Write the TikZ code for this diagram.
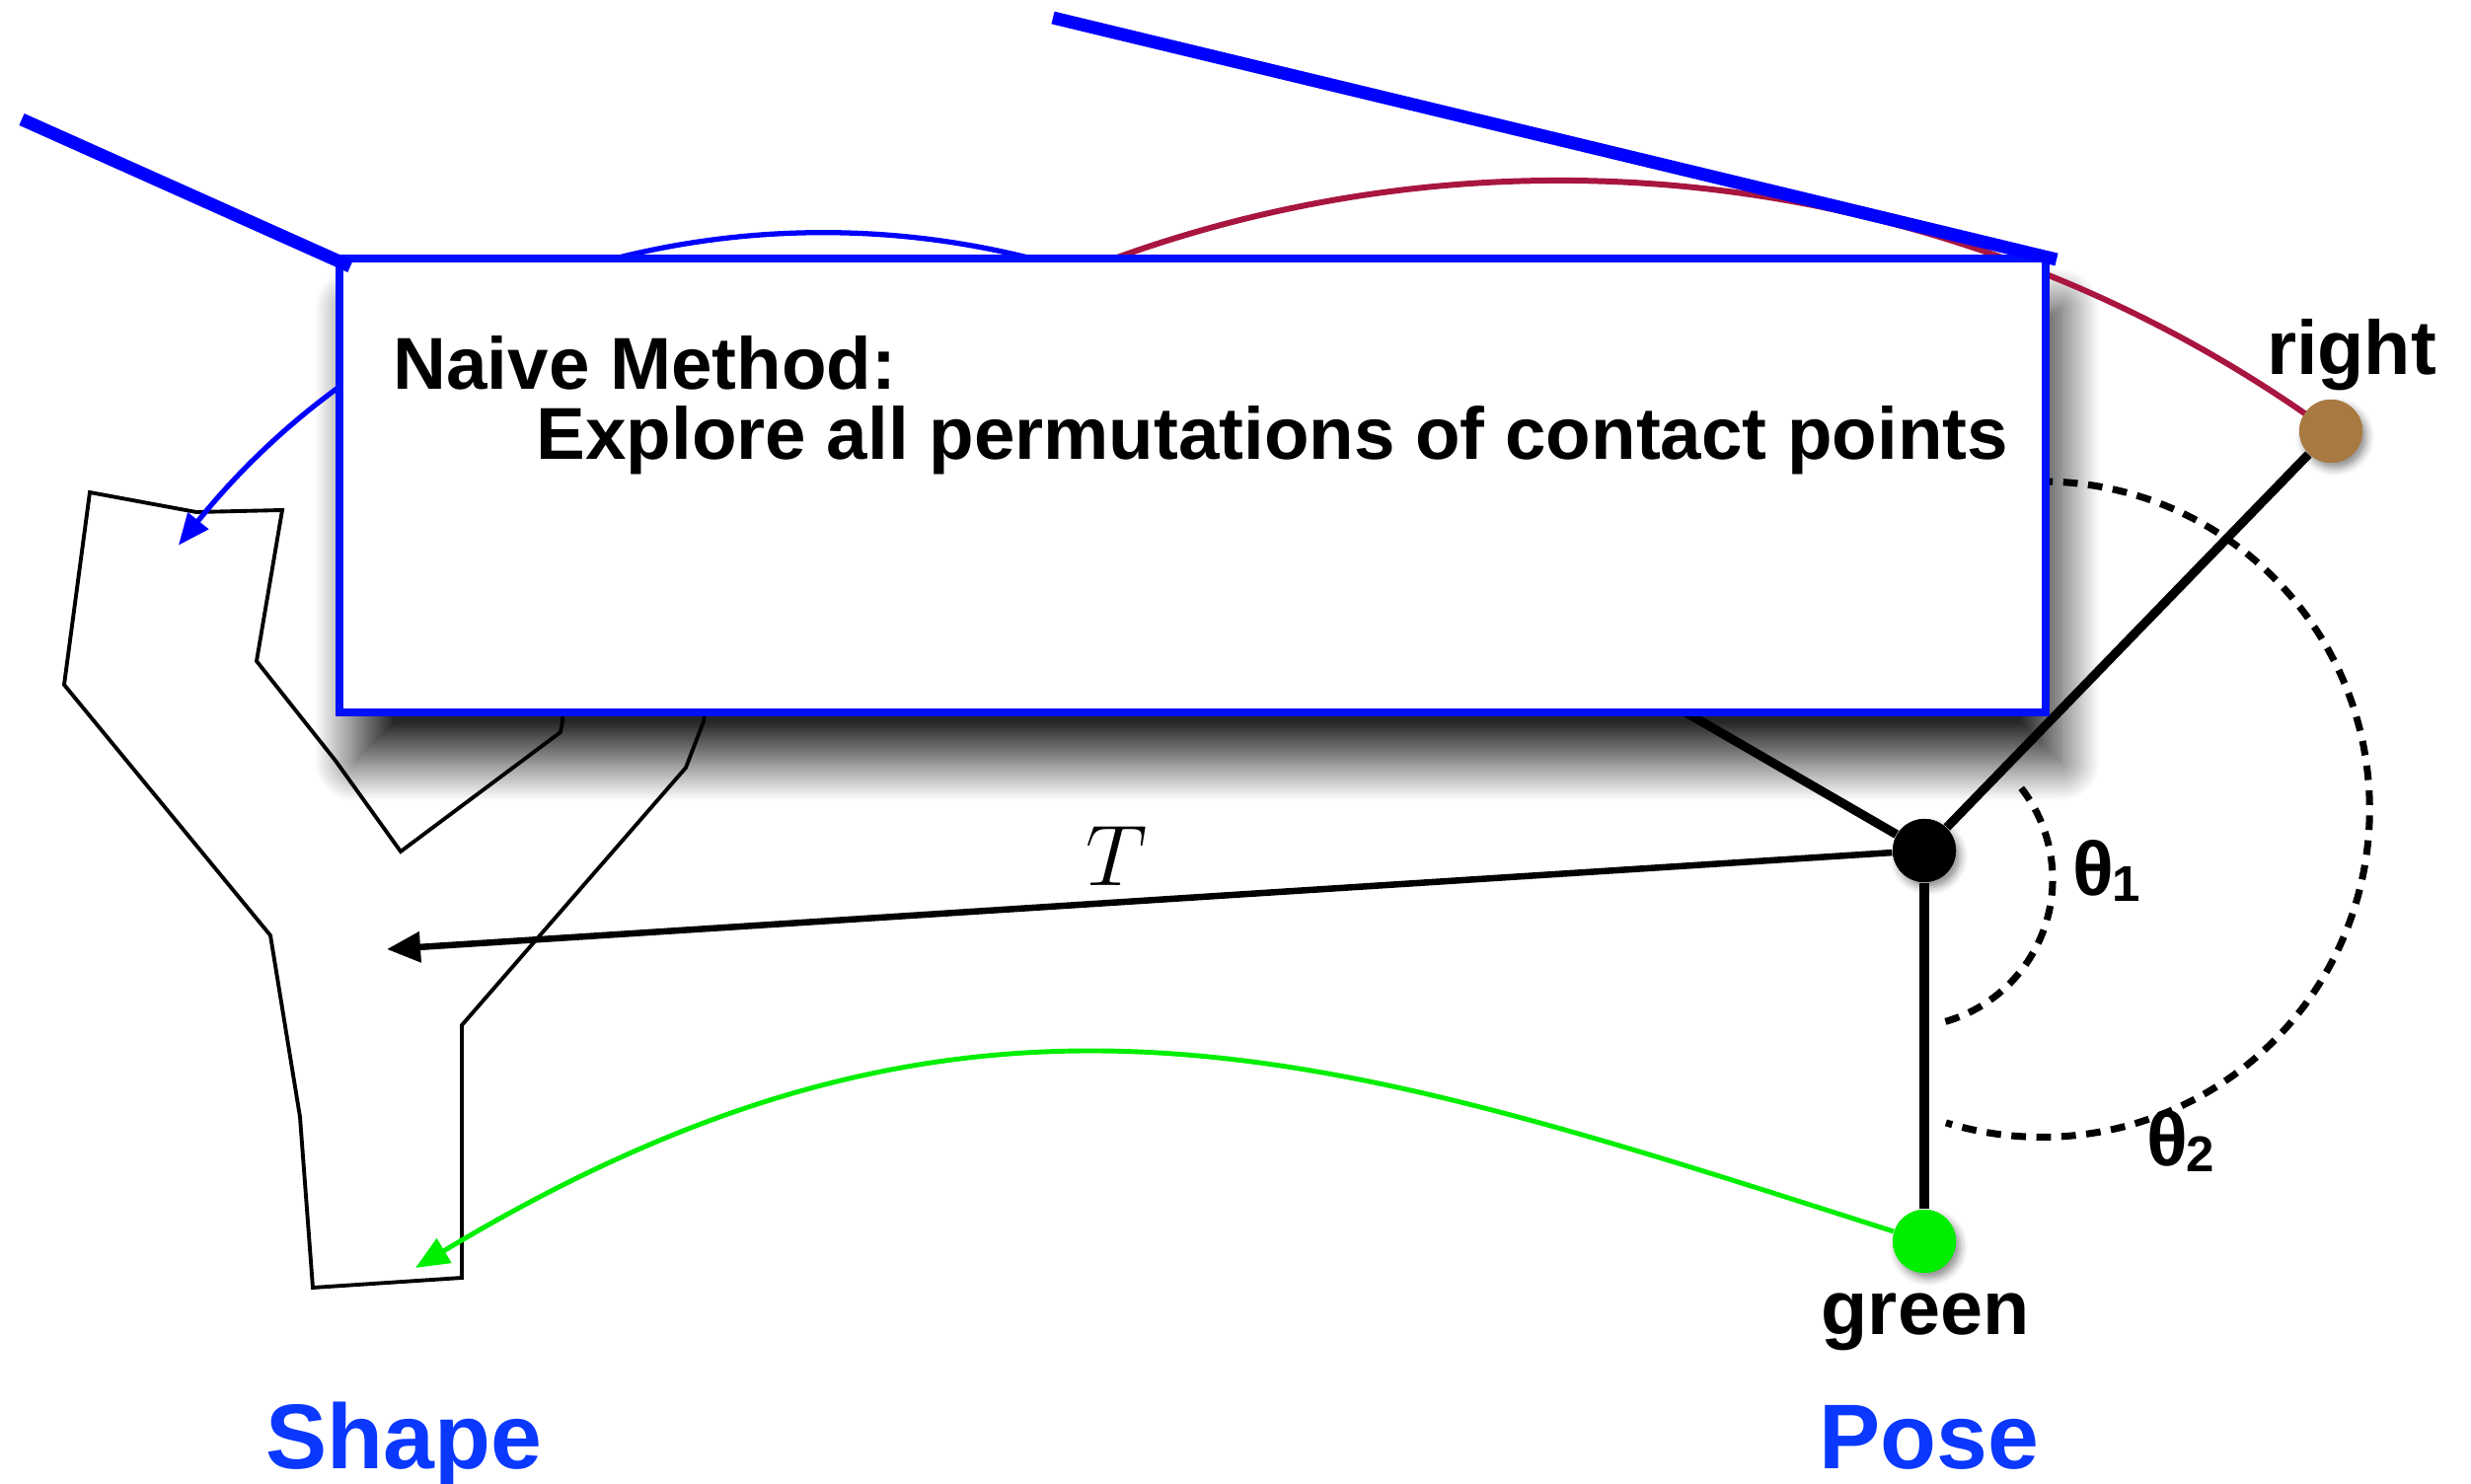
\documentclass[tikz,border=0pt]{standalone}
\usepackage{fontspec}
\setmainfont{Liberation Sans}
\usetikzlibrary{arrows.meta,shadows.blur,fit}
\definecolor{boxblue}{RGB}{0,16,255}
\definecolor{lineblue}{RGB}{0,0,255}
\definecolor{lblblue}{RGB}{10,56,255}
\definecolor{arcred}{RGB}{168,22,64}
\definecolor{dotbrown}{RGB}{168,122,66}
\definecolor{dotgreen}{RGB}{0,238,0}
\begin{document}
\begin{tikzpicture}[x=0.01cm,y=0.01cm,
  thickblue/.style={draw=lineblue,line width=3.7pt},
  bluearc/.style={draw=lineblue,line width=1.5pt,-{Triangle[length=0.32cm,width=0.26cm]}},
  redarc/.style={draw=arcred,line width=1.7pt},
  poseline/.style={draw=black,line width=2.6pt},
  tarrow/.style={draw=black,line width=1.85pt,-{Triangle[length=0.34cm,width=0.3cm]}},
  greenarr/.style={draw=dotgreen,line width=1.4pt,-{Triangle[length=0.34cm,width=0.28cm]}},
  dasharc/.style={draw=black,line width=2pt,dash pattern=on 4.2pt off 3pt},
  shapeline/.style={draw=black,line width=1.1pt,line join=miter},
  dot/.style={circle,inner sep=0pt,minimum size=0.64cm,
    blur shadow={shadow xshift=1.2pt,shadow yshift=-1.6pt,shadow blur radius=2.2pt,shadow opacity=45}},
  lbl/.style={font=\fontsize{22}{26}\selectfont\bfseries,inner sep=0pt},
  boxtxt/.style={font=\fontsize{21.2}{25}\selectfont\bfseries,inner sep=0pt},
  title/.style={font=\fontsize{26.5}{30}\selectfont\bfseries,text=lblblue,inner sep=0pt}]
\useasboundingbox (0,0) rectangle (2504,1503);

% box corners (centre line of its border)
\coordinate (bsw) at (344,781);
\coordinate (bne) at (2073,1241);

% shadow of the box, under every line
\path[blur shadow={shadow xshift=0.15cm,shadow yshift=-0.5cm,shadow blur radius=0.4cm,
  shadow blur steps=60,shadow opacity=85}] (bsw) rectangle (bne);

% hidden ends (under the box)
\coordinate (bstart) at (1262.5,1152.8);
\coordinate (rstart) at (917.5,1142.5);
\coordinate (hid) at (1484,911);
\coordinate (ttip) at (392,541);
\coordinate (gtip) at (421,218);

% dots
\node[dot,fill=black] (cdot) at (1950,641) {};
\node[dot,fill=dotbrown] (rdot) at (2362,1066) {};
\node[dot,fill=dotgreen] (gdot) at (1950,245) {};

% the shape
\draw[shapeline] (730,900) -- (713,772) -- (695,725) -- (468,464) -- (468,208)
  -- (317,198) -- (304,371) -- (274,555) -- (65,809) -- (91,1004) -- (199,984)
  -- (286,986) -- (260,833) -- (340,732) -- (406,640) -- (568,761) -- (570,772)
  -- (575,900) -- cycle;

% arcs from hidden points
\draw[bluearc] (bstart) arc[start angle=60,end angle=141.2,radius=8.45cm];
\draw[redarc] (rstart) arc[start angle=120,end angle=54.4,radius=13.25cm];

% pose lines
\draw[poseline] (cdot) -- (rdot);
\draw[poseline] (cdot) -- (hid);
\draw[poseline] (cdot) -- (gdot);
\draw[tarrow] (cdot) -- (ttip);
\node[font=\fontsize{24}{28}\selectfont,inner sep=0pt] (tlab) at (1132,635) {$T$};

% angle arcs
\draw[dasharc] (2048.2,704.3) arc[start angle=38,end angle=-76.5,radius=1.5cm];
\draw[dasharc] (2040.1,1013.7) arc[start angle=95,end angle=-107,radius=3.32cm];
\node[lbl,anchor=base west] (th1) at (2100,595) {θ\kern-0.5pt\raisebox{-1.5pt}{\fontsize{14.5}{16}\selectfont 1}};
\node[lbl,anchor=base west] (th2) at (2175,321) {θ\kern-0.5pt\raisebox{-1.5pt}{\fontsize{14.5}{16}\selectfont 2}};

% green connector
\draw[greenarr] (gdot) .. controls (1340,440) and (990,560) .. (gtip);

% redraw dots on top
\node[circle,inner sep=0pt,minimum size=0.64cm,fill=black] at (cdot) {};
\node[circle,inner sep=0pt,minimum size=0.64cm,fill=dotbrown] at (rdot) {};
\node[circle,inner sep=0pt,minimum size=0.64cm,fill=dotgreen] at (gdot) {};

% the box
\node[fit=(bsw)(bne),inner sep=0pt,draw=boxblue,line width=2.3pt,fill=white] (box) {};
\node[boxtxt,anchor=base west] (t1) at (398,1108) {Naive Method:};
\node[boxtxt,anchor=base west] (t2) at (543,1037) {Explore all permutations of contact points};

% thick blue lines on top
\coordinate (la) at (22,1382);
\coordinate (lb) at (355,1233);
\coordinate (ra) at (1067,1485);
\coordinate (rb) at (2084,1240);
\draw[thickblue] (la) -- (lb);
\draw[thickblue] (ra) -- (rb);

% labels
\node[lbl,anchor=base] (rlab) at (2383,1123) {right};
\node[lbl,anchor=base] (glab) at (1951,151) {green};
\node[title,anchor=base] (shape) at (409,15) {Shape};
\node[title,anchor=base] (pose) at (1955,15) {Pose};
\end{tikzpicture}
\end{document}
